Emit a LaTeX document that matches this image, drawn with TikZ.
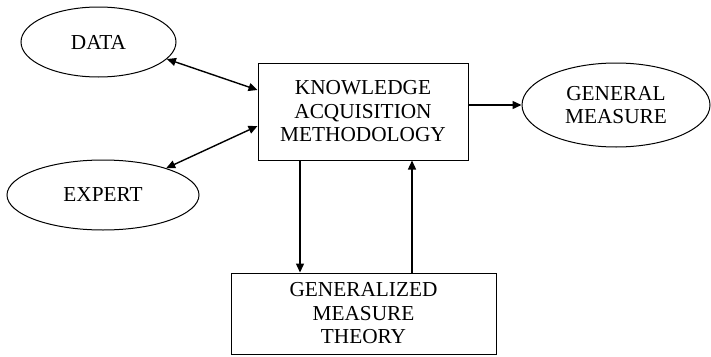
\documentclass[tikz,border=0pt]{standalone}
\usepackage{fontspec}
\setmainfont{Liberation Serif}
\usetikzlibrary{shapes.geometric,arrows.meta,calc}

\begin{document}
\begin{tikzpicture}[x=1pt,y=-1pt,
  every node/.style={font=\fontsize{21.3}{23.5}\selectfont, align=center, inner sep=0pt},
  oval/.style={ellipse, draw, line width=1pt},
  block/.style={rectangle, draw, line width=1pt},
  link/.style={line width=1.4pt, -{Triangle[length=9pt,width=8pt]}},
  duplex/.style={line width=1.4pt, {Triangle[length=9pt,width=8pt]}-{Triangle[length=9pt,width=8pt]}}
]
\useasboundingbox (0,0) rectangle (711,356);

% sources
\node[oval, minimum width=155, minimum height=70] (data) at (98.5,42) {DATA};
\node[oval, minimum width=192, minimum height=70] (expert) at (103,195) {EXPERT};

% central methodology block
\node[block, minimum width=210, minimum height=97] (kam) at (363,111.5)
  {KNOWLEDGE\\ACQUISITION\\METHODOLOGY};

% output measure
\node[oval, minimum width=188, minimum height=84] (gm) at (616,105) {GENERAL\\MEASURE};

% theory block
\node[block, minimum width=265, minimum height=81] (gmt) at (363.5,313.5)
  {GENERALIZED\\MEASURE\\THEORY};

% attachment points of the vertical links
\coordinate (downtop) at ($(kam.south)+(-63,0)$);
\coordinate (uptop)   at ($(kam.south)+(49,0)$);

% connections
\draw[duplex] (data.-14.5) -- ($(kam.west)+(0,-21.5)$);
\draw[duplex] (expert.23) -- ($(kam.west)+(0,14.5)$);
\draw[link] (kam.east |- gm.west) -- (gm.west);
\draw[link] (downtop) -- (downtop |- gmt.north);
\draw[link] (uptop |- gmt.north) -- (uptop);
\end{tikzpicture}
\end{document}
